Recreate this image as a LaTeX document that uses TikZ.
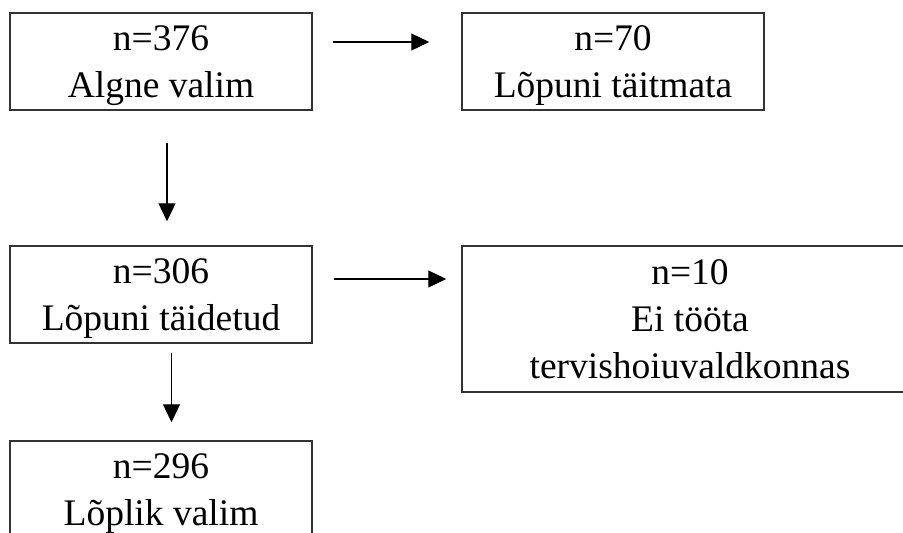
\documentclass[tikz,border=0pt]{standalone}
\usepackage{fontspec}
\setmainfont{Liberation Serif}
\usetikzlibrary{arrows.meta,positioning}

\begin{document}
\begin{tikzpicture}[node distance=2cm,on grid,
    box/.style={draw=black!80,line width=1.5pt,minimum width=302pt,minimum height=97pt,
      align=center,inner sep=0pt,text depth=0pt,font=\fontsize{37.5}{47}\selectfont},
    arr/.style={-{Triangle[length=18pt,width=17pt]},line width=1.3pt}]
  \useasboundingbox (0pt,0pt) rectangle (903pt,-533pt);
  \node[box] (b1) at (161pt,-61.5pt) {n=376\\Algne valim};
  \node[box] (b2) [right=452pt of b1] {n=70\\Lõpuni täitmata};
  \node[box] (b3) [below=233pt of b1] {n=306\\Lõpuni täidetud};
  \node[box,minimum width=456pt,minimum height=146pt] (b4) [right=529pt of b3,yshift=-24.5pt] {n=10\\Ei tööta\\tervishoiuvaldkonnas};
  \node[box] (b5) [below=195pt of b3] {n=296\\Lõplik valim};

  \path[arr] ([xshift=20pt,yshift=19.5pt]b1.east) edge ([xshift=-32pt,yshift=19.5pt]b2.west)
             ([xshift=6pt,yshift=-32pt]b1.south)  edge ([xshift=6pt,yshift=24pt]b3.north)
             ([xshift=21pt,yshift=15.5pt]b3.east) edge ([xshift=-15pt,yshift=40pt]b4.west)
             ([xshift=10.5pt,yshift=-9pt]b3.south) edge ([xshift=10.5pt,yshift=18pt]b5.north);
\end{tikzpicture}
\end{document}
